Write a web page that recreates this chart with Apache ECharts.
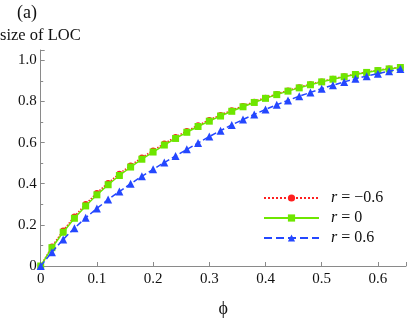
<!DOCTYPE html>
<html><head><meta charset="utf-8">
<script src="https://cdn.jsdelivr.net/npm/echarts@6/dist/echarts.min.js"></script>
<style>html,body{margin:0;padding:0;background:#fff}#c{width:409px;height:323px}</style>
</head><body><div id="c"></div>
<script>
const phi = [0,0.02,0.04,0.06,0.08,0.10,0.12,0.14,0.16,0.18,0.20,0.22,0.24,0.26,0.28,0.30,0.32,0.34,0.36,0.38,0.40,0.42,0.44,0.46,0.48,0.50,0.52,0.54,0.56,0.58,0.60,0.62,0.64];
const rNeg = [0,0.095,0.172,0.241,0.301,0.355,0.404,0.449,0.489,0.527,0.562,0.595,0.627,0.656,0.684,0.710,0.734,0.757,0.778,0.799,0.818,0.836,0.853,0.869,0.884,0.897,0.910,0.922,0.933,0.943,0.952,0.960,0.966];
const rZero = [0,0.089,0.164,0.232,0.292,0.346,0.395,0.440,0.481,0.519,0.554,0.588,0.620,0.650,0.678,0.704,0.729,0.752,0.774,0.795,0.815,0.833,0.850,0.866,0.881,0.895,0.908,0.920,0.931,0.941,0.950,0.958,0.965];
const rPos = [0,0.067,0.129,0.184,0.234,0.280,0.323,0.362,0.400,0.436,0.470,0.503,0.535,0.567,0.598,0.629,0.658,0.686,0.712,0.737,0.761,0.784,0.805,0.825,0.844,0.862,0.879,0.895,0.910,0.923,0.935,0.947,0.958];
const seriesNames = ['r = −0.6','r = 0','r = 0.6'];
const xTicks = [0,0.1,0.2,0.3,0.4,0.5,0.6];
const yTicks = [0,0.2,0.4,0.6,0.8,1.0];

const font = '"Liberation Serif", "DejaVu Serif", serif';
const chart = echarts.init(document.getElementById('c'), null, {renderer:'canvas'});
const pairs = a => phi.map((p,i)=>[p,a[i]]);
const fmt = v => { if (Math.abs(v) < 1e-9) return '0'; return v.toFixed(1); };
chart.setOption({
  animation:false,
  textStyle:{fontFamily:font},
  grid:{left:40.7, right:0, top:50, bottom:46, containLabel:false},
  xAxis:{type:'value', min:0, max:0.65, interval:0.1,
    axisLine:{lineStyle:{color:'#8a8a8a', width:1}},
    axisTick:{inside:true, length:4, lineStyle:{color:'#8a8a8a'}},
    axisLabel:{fontFamily:font, fontSize:15, color:'#111', margin:6,
      formatter: v => xTicks.some(t=>Math.abs(t-v)<1e-6) ? fmt(v) : ''},
    splitLine:{show:false},
    name:'ϕ', nameLocation:'middle', nameGap:34, nameTextStyle:{fontFamily:font, fontSize:18, color:'#111'}
  },
  yAxis:{type:'value', min:0, max:1.05, interval:0.2,
    axisLine:{show:true, lineStyle:{color:'#8a8a8a', width:1}},
    axisTick:{show:true, inside:true, length:4, lineStyle:{color:'#8a8a8a'}},
    minorTick:{show:true, splitNumber:2, length:2.5, lineStyle:{color:'#8a8a8a'}},
    axisLabel:{fontFamily:font, fontSize:15, color:'#111', margin:4,
      formatter: v => yTicks.some(t=>Math.abs(t-v)<1e-6) ? fmt(v) : ''},
    splitLine:{show:false}
  },
  legend:{orient:'vertical', left:258, top:185, itemWidth:55, itemHeight:9, itemGap:4,
    data:seriesNames,
    textStyle:{fontFamily:font, fontSize:16, color:'#111', padding:[0,0,0,7],
      rich:{i:{fontFamily:font, fontSize:16, fontStyle:'italic', color:'#111'}}},
    formatter: n => '{i|r}' + n.slice(1)
  },
  graphic:[
    {type:'text', left:17, top:4, style:{text:'(a)', fontFamily:font, fontSize:18, fill:'#111'}},
    {type:'text', left:0, top:27, style:{text:'size of LOC', fontFamily:font, fontSize:16.5, fill:'#111'}}
  ],
  series:[
    {name:seriesNames[0], type:'line', data:pairs(rNeg), symbol:'circle', symbolSize:6,
      itemStyle:{color:'#ff1f1f'}, lineStyle:{color:'#ff1f1f', width:1.5, type:'dotted'}, z:2},
    {name:seriesNames[1], type:'line', data:pairs(rZero), symbol:'rect', symbolSize:7,
      itemStyle:{color:'#6ee600'}, lineStyle:{color:'#6ee600', width:1.5, type:'solid'}, z:3},
    {name:seriesNames[2], type:'line', data:pairs(rPos), symbol:'triangle', symbolSize:8,
      itemStyle:{color:'#2447ff'}, lineStyle:{color:'#2447ff', width:1.5, type:'dashed'}, z:4}
  ]
});
</script></body></html>
